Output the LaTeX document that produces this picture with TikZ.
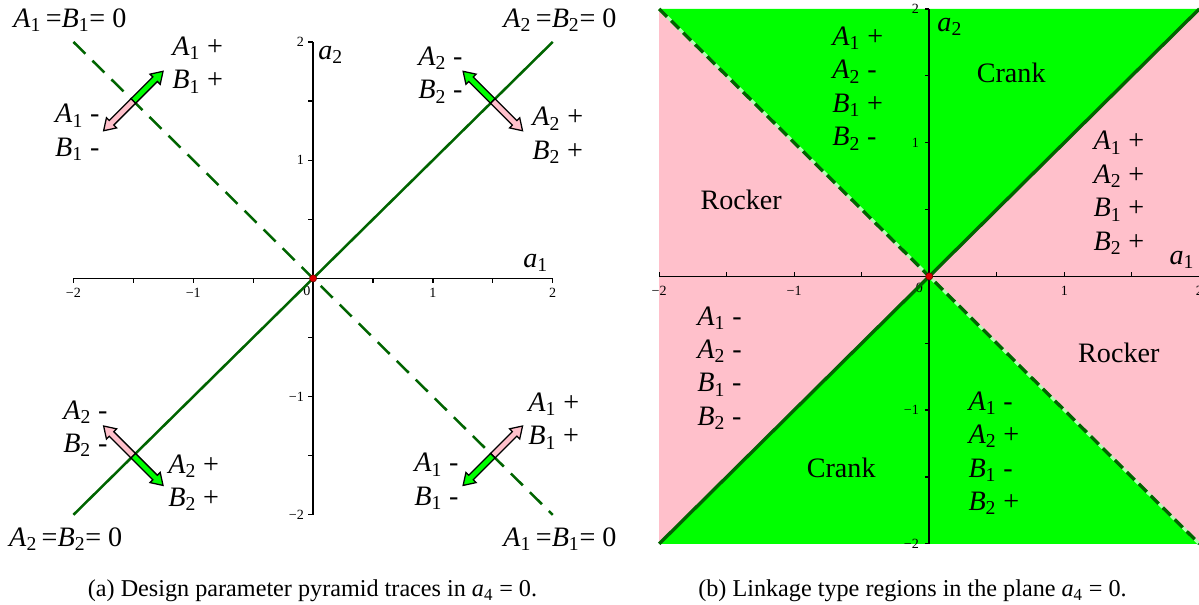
\documentclass[tikz,border=0pt]{standalone}
\usepackage{amsmath}
\usepackage{fontspec}
\setmainfont{Liberation Serif}
\usetikzlibrary{positioning}

\definecolor{crankgreen}{RGB}{0,255,0}
\definecolor{rockerpink}{RGB}{255,192,203}
\definecolor{tracegreen}{RGB}{0,100,0}
\definecolor{dotred}{RGB}{220,0,0}

\newcommand{\pv}[2]{\textit{#1}$_{\text{#2}}$}
\newcommand{\halfarrow}[3]{%
  \filldraw[fill=#3, draw=black, line width=0.9pt, shift={#1}, rotate=#2]
    (0cm,-0.08cm) -- (0.77cm,-0.08cm) -- (0.77cm,-0.18cm) -- (1.05cm,0cm)
    -- (0.77cm,0.18cm) -- (0.77cm,0.08cm) -- (0cm,0.08cm) -- cycle;}

\begin{document}
\begin{tikzpicture}[
  x=0.025cm, y=-0.025cm,
  lab/.style={font=\fontsize{20}{23.8}\selectfont, align=left, anchor=west, inner sep=0pt},
  region/.style={font=\fontsize{20}{24}\selectfont, inner sep=0pt},
  ticklab/.style={font=\fontsize{10}{11}\selectfont, inner sep=0pt},
  captext/.style={font=\fontsize{17.2}{20}\selectfont, inner sep=0pt},
  axisline/.style={black, line width=0.9pt},
  traceline/.style={tracegreen, line width=1.8pt},
  origindot/.style={fill=dotred, draw=dotred!50!black, line width=0.4pt}
]
\useasboundingbox (0,0) rectangle (1199,605);

% (a) pyramid traces
\begin{scope}[shift={(7.825cm,-6.9575cm)}, x=2.995cm, y=2.955cm]
  \draw[axisline] (-2,0) -- (2,0);
  \draw[axisline] (0,-2) -- (0,2);
  \foreach \t in {-2,-1.5,...,2} {
    \draw[axisline] (\t,0) -- ++(0,-0.04);
    \draw[axisline] (0,\t) -- ++(-0.04,0);
  }
  \foreach \t/\s in {-2/−2,-1/−1,1/1,2/2} {
    \node[ticklab, anchor=north] (ax\t) at (\t,-0.08) {\s};
    \node[ticklab, anchor=east] (ay\t) at (-0.075,\t) {\s};
  }
  \node[ticklab, anchor=north east] (a0) at (-0.02,-0.06) {0};
  \draw[traceline] (-2,-2) -- (2,2);
  \draw[traceline, dash pattern=on 12pt off 7pt] (-2,2) -- (2,-2);
  \halfarrow{(-1.5,1.5)}{45}{crankgreen}
  \halfarrow{(-1.5,1.5)}{225}{rockerpink}
  \halfarrow{(1.5,1.5)}{135}{crankgreen}
  \halfarrow{(1.5,1.5)}{-45}{rockerpink}
  \halfarrow{(-1.5,-1.5)}{135}{rockerpink}
  \halfarrow{(-1.5,-1.5)}{-45}{crankgreen}
  \halfarrow{(1.5,-1.5)}{45}{rockerpink}
  \halfarrow{(1.5,-1.5)}{225}{crankgreen}
  \filldraw[origindot] (0,0) circle (0.09cm);
  \node[lab] (aA2) at (0.042,1.889) {\pv{a}{2}};
  \node[lab] (aA1) at (1.753,0.129) {\pv{a}{1}};
  \node[lab] (ulEq) at (-2.504,2.185) {\pv{A}{1}\,=\pv{B}{1}= 0};
  \node[lab] (urEq) at (1.586,2.185) {\pv{A}{2}\,=\pv{B}{2}= 0};
  \node[lab] (llEq) at (-2.538,-2.206) {\pv{A}{2}\,=\pv{B}{2}= 0};
  \node[lab] (lrEq) at (1.586,-2.206) {\pv{A}{1}\,=\pv{B}{1}= 0};
  \node[lab] (ulPlus) at (-1.177,1.805) {\pv{A}{1} +\\\pv{B}{1} +};
  \node[lab] (ulMinus) at (-2.154,1.233) {\pv{A}{1} -\\\pv{B}{1} -};
  \node[lab] (urMinus) at (0.876,1.72) {\pv{A}{2} -\\\pv{B}{2} -};
  \node[lab] (urPlus) at (1.828,1.208) {\pv{A}{2} +\\\pv{B}{2} +};
  \node[lab] (llMinus) at (-2.087,-1.271) {\pv{A}{2} -\\\pv{B}{2} -};
  \node[lab] (llPlus) at (-1.21,-1.728) {\pv{A}{2} +\\\pv{B}{2} +};
  \node[lab] (lrPlus) at (1.795,-1.207) {\pv{A}{1} +\\\pv{B}{1} +};
  \node[lab] (lrMinus) at (0.843,-1.719) {\pv{A}{1} -\\\pv{B}{1} -};
\end{scope}

% (b) linkage regions
\begin{scope}[shift={(23.225cm,-6.9075cm)}, x=3.375cm, y=3.3425cm]
  \fill[rockerpink] (-2,-2) rectangle (2,2);
  \fill[crankgreen] (-2,2) -- (0,0) -- (2,2) -- cycle;
  \fill[crankgreen] (-2,-2) -- (0,0) -- (2,-2) -- cycle;
  \draw[axisline] (-2,0) -- (2,0);
  \draw[axisline, line width=1.2pt] (0,-2) -- (0,2);
  \foreach \t in {-2,-1.5,...,2} {
    \draw[axisline] (\t,0) -- ++(0,0.035);
    \draw[axisline] (0,\t) -- ++(-0.035,0);
  }
  \foreach \t/\s in {-2/−2,-1/−1,1/1,2/2} {
    \node[ticklab, anchor=north] (bx\t) at (\t,-0.075) {\s};
    \node[ticklab, anchor=east] (by\t) at (-0.075,\t) {\s};
  }
  \node[ticklab, anchor=north east] (b0) at (-0.045,-0.05) {0};
  \draw[traceline, line width=2.4pt] (-2,-2) -- (2,2);
  \draw[white!70!crankgreen, line width=2pt] (-2,2) -- (2,-2);
  \draw[traceline, line width=2.4pt, dash pattern=on 8pt off 4pt] (-2,2) -- (2,-2);
  \filldraw[origindot] (0,0) circle (0.09cm);
  \node[lab] (bA2) at (0.059,1.865) {\pv{a}{2}};
  \node[lab] (bA1) at (1.778,0.122) {\pv{a}{1}};
  \node[region] (crankTop) at (0.607,1.521) {Crank};
  \node[region] (crankBot) at (-0.652,-1.434) {Crank};
  \node[region] (rockerL) at (-1.393,0.571) {Rocker};
  \node[region] (rockerR) at (1.404,-0.574) {Rocker};
  \node[lab] (signsN) at (-0.719,1.405) {\pv{A}{1} +\\\pv{A}{2} -\\\pv{B}{1} +\\\pv{B}{2} -};
  \node[lab] (signsE) at (1.215,0.623) {\pv{A}{1} +\\\pv{A}{2} +\\\pv{B}{1} +\\\pv{B}{2} +};
  \node[lab] (signsW) at (-1.719,-0.686) {\pv{A}{1} -\\\pv{A}{2} -\\\pv{B}{1} -\\\pv{B}{2} -};
  \node[lab] (signsS) at (0.289,-1.322) {\pv{A}{1} -\\\pv{A}{2} +\\\pv{B}{1} -\\\pv{B}{2} +};
\end{scope}

\node[captext] (capA) at (312.5,591) {(a) Design parameter pyramid traces in \pv{a}{4} = 0.};
\node[captext] (capB) at (912.5,591) {(b) Linkage type regions in the plane \pv{a}{4} = 0.};
\end{tikzpicture}
\end{document}
